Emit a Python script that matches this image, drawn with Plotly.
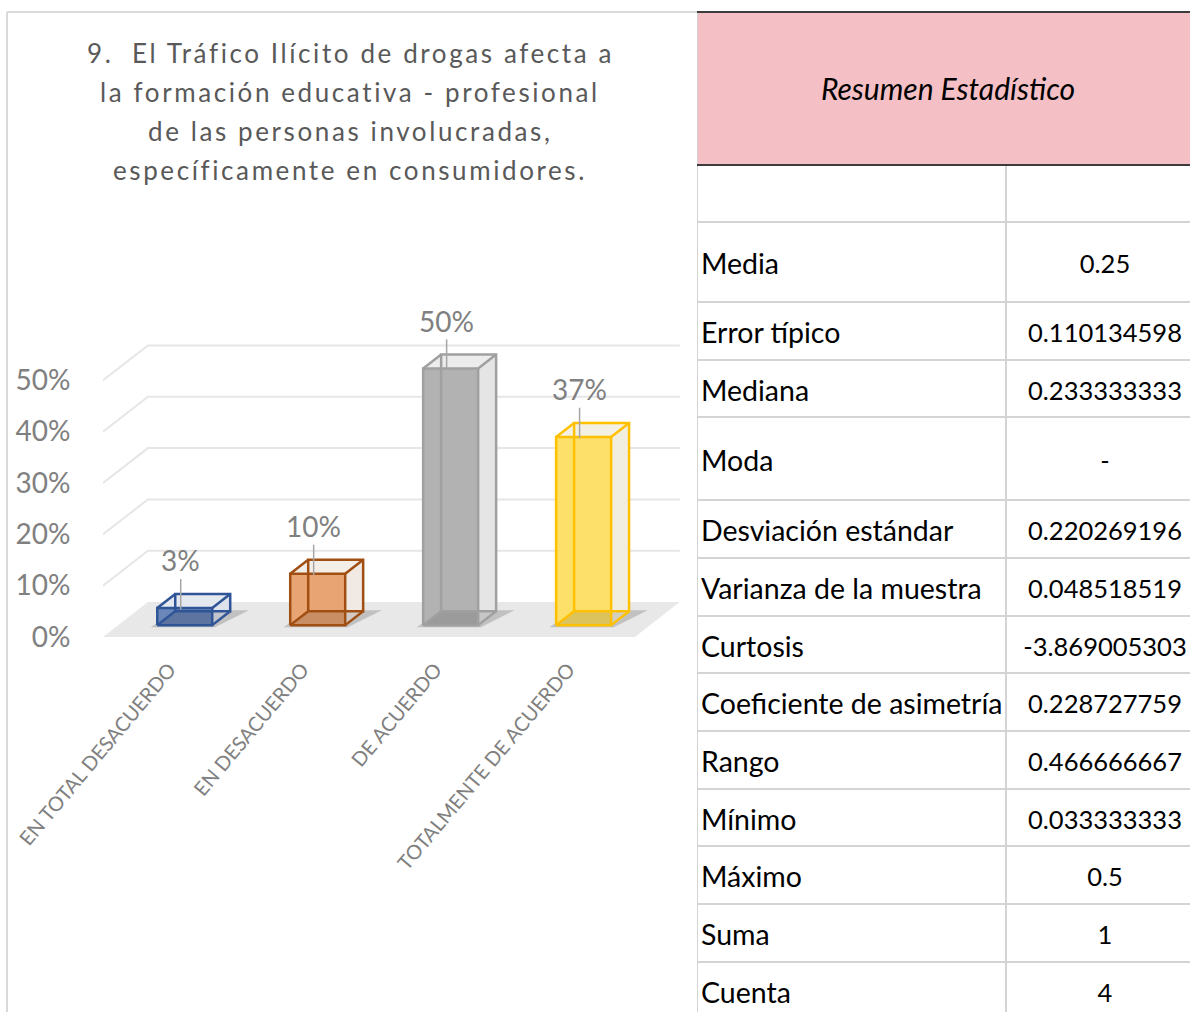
import plotly.graph_objects as go

# ---------------- data ----------------
categories = ["EN TOTAL DESACUERDO", "EN DESACUERDO", "DE ACUERDO", "TOTALMENTE DE ACUERDO"]
values = [0.0333, 0.10, 0.50, 0.3667]
value_labels = ["3%", "10%", "50%", "37%"]
y_ticks = [0, 0.1, 0.2, 0.3, 0.4, 0.5]
title_lines = [
    "9.  El Tráfico Ilícito de drogas afecta a",
    "la formación educativa - profesional",
    "de las personas involucradas,",
    "específicamente en consumidores.",
]
table_title = "Resumen Estadístico"
stat_names = ["", "Media", "Error típico", "Mediana", "Moda", "Desviación estándar",
              "Varianza de la muestra", "Curtosis", "Coeficiente de asimetría", "Rango",
              "Mínimo", "Máximo", "Suma", "Cuenta"]
stat_values = ["", "0.25", "0.110134598", "0.233333333", "-", "0.220269196",
               "0.048518519", "-3.869005303", "0.228727759", "0.466666667",
               "0.033333333", "0.5", "1", "4"]

# ---------------- style ----------------
W, H = 1190, 1012
FONT = "Lato"
front_fill = ["#6b86b8", "#e9a474", "#b2b2b2", "#fde06a"]
side_fill = ["#dde2eb", "#f1e9e3", "#e5e5e5", "#f1eddf"]
top_fill = ["#e4e8ef", "#f4eee9", "#ececec", "#f5f1e2"]
edge_col = ["#2f5597", "#a14e13", "#a0a0a0", "#ffc000"]
DX, DY = 0.338, 0.068      # full floor depth in data units
D1, D2 = 0.34, 0.74        # bar front/back depth fractions
BW = 0.4135                # bar width in category units
grid_col = "#e6e6e6"
row_heights = [57, 80, 58, 57, 83, 58, 58, 57, 58, 58, 57, 58, 58, 58]
header_top, header_h = 12, 153
tbl_left, col_split, val_center = 697, 1006, 1105

fig = go.Figure()

def poly(xs, ys, fill, line=None, width=0, xa="x", ya="y"):
    fig.add_trace(go.Scatter(
        x=list(xs) + [xs[0]], y=list(ys) + [ys[0]], mode="lines", fill="toself",
        fillcolor=fill, line=dict(color=line or "rgba(0,0,0,0)", width=width),
        hoverinfo="skip", xaxis=xa, yaxis=ya))

# floor
poly([-0.5, 3.5, 3.5 + DX, -0.5 + DX], [0, 0, DY, DY], "#e8e8e8")
# gridlines (oblique side wall + back wall)
gx, gy = [], []
for v in y_ticks[1:]:
    gx += [-0.5, -0.5 + DX, 3.5 + DX, None]
    gy += [v, v + DY, v + DY, None]
fig.add_trace(go.Scatter(x=gx, y=gy, mode="lines", line=dict(color=grid_col, width=2),
                         hoverinfo="skip"))

for i, v in enumerate(values):
    xl, xr = i - BW / 2, i + BW / 2
    fx, fy = D1 * DX, D1 * DY
    bx, by = D2 * DX, D2 * DY
    # shadow
    poly([xl + fx - 0.05, xr + fx + 0.02, xr + bx + 0.14, xl + bx],
         [fy - 0.004, fy - 0.004, by + 0.002, by + 0.002], "rgba(120,120,120,0.35)")
    # right face
    poly([xr + fx, xr + bx, xr + bx, xr + fx], [fy, by, v + by, v + fy], side_fill[i])
    # top face
    poly([xl + fx, xr + fx, xr + bx, xl + bx], [v + fy, v + fy, v + by, v + by], top_fill[i])
    # front face
    poly([xl + fx, xr + fx, xr + fx, xl + fx], [fy, fy, v + fy, v + fy], front_fill[i])
    # bottom face (seen through)
    poly([xl + fx, xr + fx, xr + bx, xl + bx], [fy, fy, by, by], "rgba(0,0,0,0.13)")
    # edges
    ex, ey = [], []
    fr = [(xl + fx, fy), (xr + fx, fy), (xr + fx, v + fy), (xl + fx, v + fy)]
    bk = [(xl + bx, by), (xr + bx, by), (xr + bx, v + by), (xl + bx, v + by)]
    for face in (fr, bk):
        for p in face + [face[0]]:
            ex.append(p[0]); ey.append(p[1])
        ex.append(None); ey.append(None)
    for a, b in zip(fr, bk):
        ex += [a[0], b[0], None]; ey += [a[1], b[1], None]
    fig.add_trace(go.Scatter(x=ex, y=ey, mode="lines", line=dict(color=edge_col[i], width=2.5),
                             hoverinfo="skip"))
    # data label with leader line
    fig.add_annotation(x=i + 0.25 * DX, y=v + 0.3 * DY, xref="x", yref="y",
                       text=value_labels[i], showarrow=True, arrowhead=0, arrowwidth=1.5,
                       arrowcolor="#a6a6a6", ax=0, ay=-49,
                       font=dict(family=FONT, size=28, color="#808080"))

# ---------------- table ----------------
X2 = dict(xaxis="x2", yaxis="y2")
hb = header_top + header_h
fig.add_trace(go.Scatter(x=[tbl_left, W, W, tbl_left, tbl_left],
                         y=[header_top, header_top, hb, hb, header_top],
                         mode="lines", fill="toself", fillcolor="#f4c0c6",
                         line=dict(width=0, color="rgba(0,0,0,0)"), hoverinfo="skip", **X2))
bounds = [hb]
for h in row_heights:
    bounds.append(bounds[-1] + h)
lx, ly = [], []
for b in bounds[1:]:
    lx += [tbl_left, W, None]; ly += [b, b, None]
lx += [col_split, col_split, None]; ly += [hb, bounds[-1], None]
lx += [tbl_left, tbl_left, None]; ly += [header_top, bounds[-1], None]
fig.add_trace(go.Scatter(x=lx, y=ly, mode="lines", line=dict(color="#d4d4d4", width=2),
                         hoverinfo="skip", **X2))
fig.add_trace(go.Scatter(x=[tbl_left, W, None, tbl_left, W], y=[header_top, header_top, None, hb, hb],
                         mode="lines", line=dict(color="#3c3c3c", width=2), hoverinfo="skip", **X2))
centers = [(bounds[k] + bounds[k + 1]) / 2 + 5 for k in range(len(row_heights))]
fig.add_trace(go.Scatter(x=[tbl_left + 4] * len(stat_names), y=centers, text=stat_names,
                         mode="text", textposition="middle right",
                         textfont=dict(family=FONT, size=28.5, color="#000000"),
                         hoverinfo="skip", **X2))
fig.add_trace(go.Scatter(x=[val_center] * len(stat_values), y=centers, text=stat_values,
                         mode="text", textposition="middle center",
                         textfont=dict(family=FONT, size=25.5, color="#000000"),
                         hoverinfo="skip", **X2))
fig.add_trace(go.Scatter(x=[948], y=[(header_top + hb) / 2 + 4], text=[table_title],
                         mode="text", textposition="middle center",
                         textfont=dict(family=FONT, size=30, color="#000000", style="italic"),
                         hoverinfo="skip", **X2))

# ---------------- title & frame ----------------
for k, line in enumerate(title_lines):
    fig.add_annotation(x=350 / W, y=1 - (53 + 39 * k) / H, xref="paper", yref="paper",
                       text='<span style="letter-spacing:2.6px">' + line + '</span>',
                       showarrow=False, xanchor="center", yanchor="middle",
                       font=dict(family=FONT, size=26, color="#595959"))
fig.add_shape(type="line", xref="paper", yref="paper", x0=7 / W, x1=697 / W,
              y0=1 - 12 / H, y1=1 - 12 / H, line=dict(color="#d9d9d9", width=2))
fig.add_shape(type="line", xref="paper", yref="paper", x0=7 / W, x1=7 / W,
              y0=1 - 12 / H, y1=0, line=dict(color="#d9d9d9", width=2))

fig.update_layout(
    template="none",
    width=W, height=H, margin=dict(l=0, r=0, t=0, b=0, pad=0, autoexpand=False),
    paper_bgcolor="white", plot_bgcolor="rgba(0,0,0,0)", showlegend=False,
    xaxis=dict(domain=[103 / W, 688 / W], range=[-0.5, 3.9], tickvals=[0, 1, 2, 3],
               ticktext=categories, tickangle=-50, ticks="outside", ticklen=12,
               tickcolor="rgba(0,0,0,0)", showgrid=False, zeroline=False, showline=False,
               ticklabeloverflow="allow", automargin=False,
               tickfont=dict(family=FONT, size=20, color="#808080"), fixedrange=True),
    yaxis=dict(domain=[1 - 637 / H, 1 - 329 / H], range=[0, 0.6], tickvals=y_ticks,
               tickformat=".0%", ticks="outside", ticklen=26, tickcolor="rgba(0,0,0,0)",
               showgrid=False, zeroline=False, showline=False, automargin=False,
               tickfont=dict(family=FONT, size=28, color="#808080"), fixedrange=True),
    xaxis2=dict(domain=[tbl_left / W, 1], range=[tbl_left, W], visible=False, anchor="y2",
                automargin=False, fixedrange=True),
    yaxis2=dict(domain=[0, 1], range=[H, 0], visible=False, anchor="x2",
                automargin=False, fixedrange=True),
)

fig.write_html("out.html", config={"displayModeBar": False, "responsive": False},
               post_script="document.body.style.margin='0';document.body.style.overflow='hidden';")
